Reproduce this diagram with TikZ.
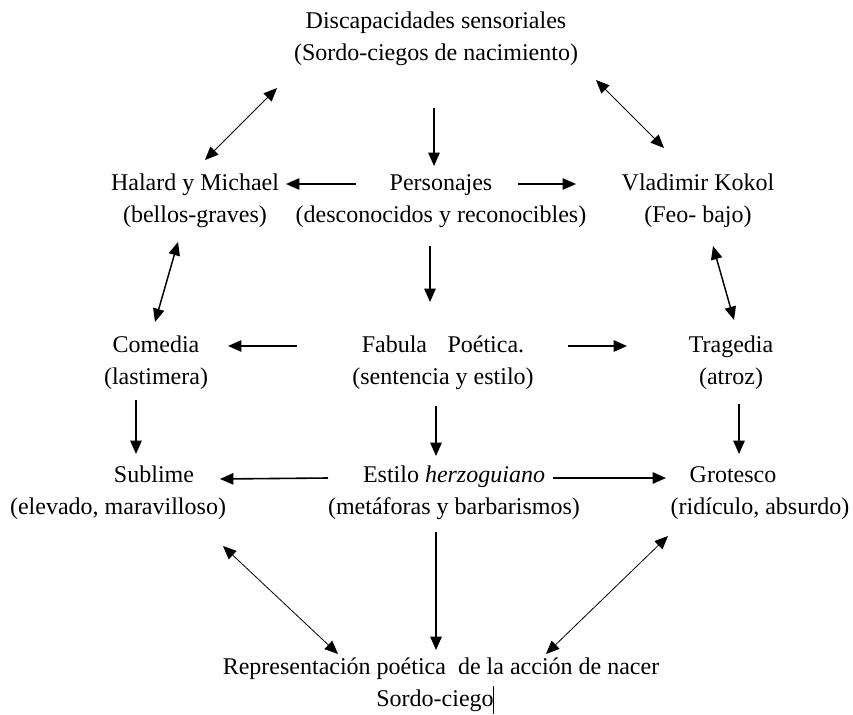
\documentclass[tikz,border=0pt]{standalone}
\usepackage{fontspec}
\setmainfont{Liberation Serif}
\usetikzlibrary{arrows.meta}
\begin{document}
\begin{tikzpicture}[x=0.75pt,y=-0.75pt,
  lbl/.style={font=\fontsize{18}{24}\selectfont, align=center, inner sep=0pt},
  tip/.tip={Triangle[length=10pt,width=8.5pt]},
  arr/.style={-tip, line width=1.2pt},
  darr/.style={tip-tip, line width=0.6pt},
  darrb/.style={tip-tip, line width=1.1pt}]
\useasboundingbox (0,0) rectangle (853,714);

\node[lbl] (disc) at (436,39) {Discapacidades sensoriales\\(Sordo-ciegos de nacimiento)};
\node[lbl] (hal)  at (195,201) {Halard y Michael\\(bellos-graves)};
\node[lbl] (pers) at (441,201) {Personajes\\(desconocidos y reconocibles)};
\node[lbl] (vla)  at (698,201) {Vladimir Kokol\\(Feo- bajo)};
\node[lbl] (com)  at (156,363) {Comedia\\(lastimera)};
\node[lbl] (fab)  at (443,363) {Fabula\hspace{0.6em} Poética.\\(sentencia y estilo)};
\node[lbl] (tra)  at (731,363) {Tragedia\\(atroz)};
\node[lbl] (sub)  at (118,493) {\hspace*{54pt}Sublime\\(elevado, maravilloso)};
\node[lbl] (est)  at (454,493) {Estilo \textit{herzoguiano}\\(metáforas y barbarismos)};
\node[lbl] (gro)  at (760,493) {Grotesco\hspace*{40.5pt}\\(ridículo, absurdo)};
\node[lbl] (rep)  at (441,685) {Representación poética\ \ de la acción de nacer\\Sordo-ciego\hspace*{9pt}};

% arrow end points
\coordinate (a1) at (277,88);  \coordinate (b1) at (205,160);
\coordinate (a2) at (434,108); \coordinate (b2) at (434,166);
\coordinate (a3) at (596,80);  \coordinate (b3) at (664,148);
\coordinate (a4) at (356,184); \coordinate (b4) at (286,184);
\coordinate (a5) at (518,184); \coordinate (b5) at (576,184);
\coordinate (a6) at (178,242); \coordinate (b6) at (155,322);
\coordinate (a7) at (430,246); \coordinate (b7) at (430,302);
\coordinate (a8) at (713,246); \coordinate (b8) at (734,320);
\coordinate (a9) at (297,346); \coordinate (b9) at (228,346);
\coordinate (a10) at (568,346); \coordinate (b10) at (627,346);
\coordinate (a11) at (136,400); \coordinate (b11) at (136,454);
\coordinate (a12) at (436,406); \coordinate (b12) at (436,456);
\coordinate (a13) at (739,404); \coordinate (b13) at (739,454);
\coordinate (a14) at (328,478); \coordinate (b14) at (220,479);
\coordinate (a15) at (553,478); \coordinate (b15) at (666,478);
\coordinate (a16) at (223,546); \coordinate (b16) at (338,654);
\coordinate (a17) at (436,532); \coordinate (b17) at (436,650);
\coordinate (a18) at (668,536); \coordinate (b18) at (546,654);

\draw[darr] (a1) -- (b1);
\draw[arr] (a2) -- (b2);
\draw[darr] (a3) -- (b3);
\draw[arr] (a4) -- (b4);
\draw[arr] (a5) -- (b5);
\draw[darrb] (a6) -- (b6);
\draw[arr] (a7) -- (b7);
\draw[darrb] (a8) -- (b8);
\draw[arr] (a9) -- (b9);
\draw[arr] (a10) -- (b10);
\draw[arr] (a11) -- (b11);
\draw[arr] (a12) -- (b12);
\draw[arr] (a13) -- (b13);
\draw[arr] (a14) -- (b14);
\draw[arr] (a15) -- (b15);
\draw[darr] (a16) -- (b16);
\draw[arr] (a17) -- (b17);
\draw[darr] (a18) -- (b18);

% text cursor
\coordinate (c1) at (493,686); \coordinate (c2) at (493,714);
\draw[line width=0.6pt] (c1) -- (c2);
\end{tikzpicture}
\end{document}
